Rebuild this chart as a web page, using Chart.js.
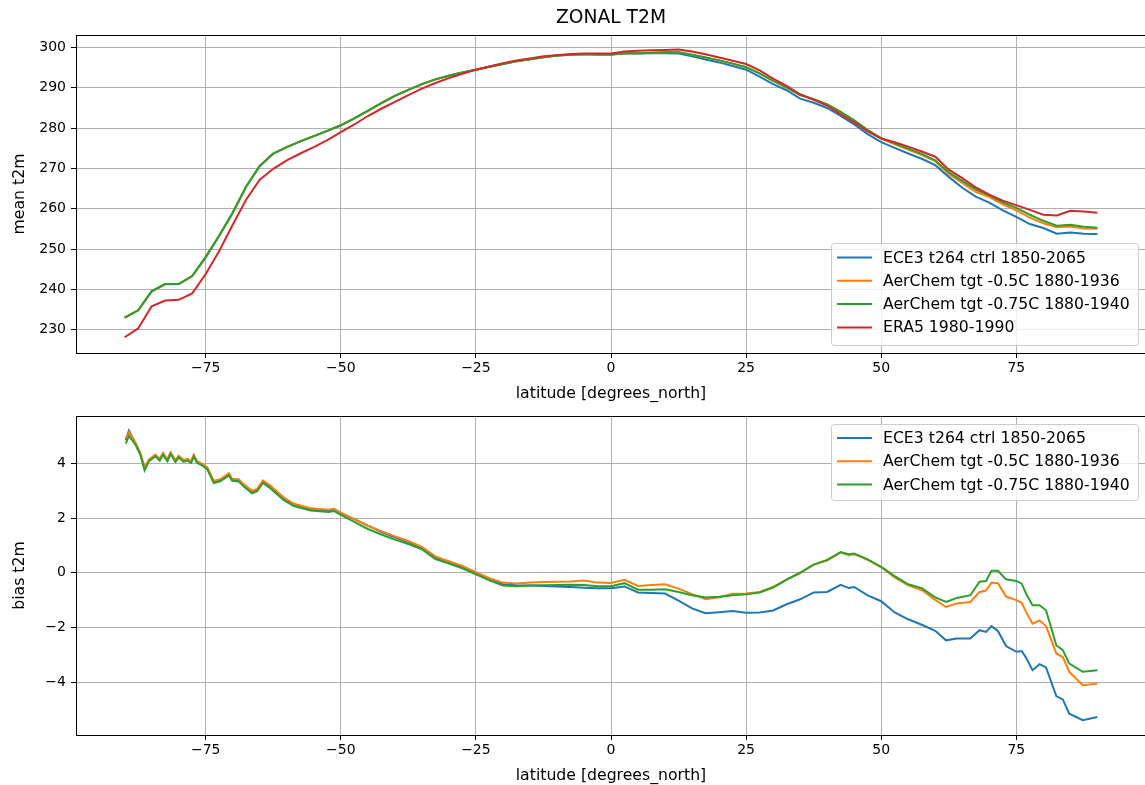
<!DOCTYPE html>
<html><head><meta charset="utf-8">
<script src="https://cdn.jsdelivr.net/npm/chart.js@4.4.0/dist/chart.umd.min.js"></script>
<style>
html,body{margin:0;padding:0;background:#fff;overflow:hidden;width:1145px;height:785px;}
canvas{position:absolute;left:0;}
#c1{top:0;} #c2{top:401px;}
</style></head><body>
<canvas id="c1" width="1150" height="403"></canvas>
<canvas id="c2" width="1150" height="384"></canvas>
<script>
// ---------- data ----------
const seriesNames = ['ECE3 t264 ctrl 1850-2065','AerChem tgt -0.5C 1880-1936','AerChem tgt -0.75C 1880-1940','ERA5 1980-1990'];
const seriesColors = ['#1f77b4','#ff7f0e','#2ca02c','#d62728'];
const xTicks = [-75,-50,-25,0,25,50,75];
const yTicksTop = [230,240,250,260,270,280,290,300];
const yTicksBias = [-4,-2,0,2,4];

const latTop = [-90,-87.5,-85,-82.5,-80,-77.5,-75,-72.5,-70,-67.5,-65,-62.5,-60,-57.5,-55,-52.5,-50,-47.5,-45,-42.5,-40,-37.5,-35,-32.5,-30,-27.5,-25,-22.5,-20,-17.5,-15,-12.5,-10,-7.5,-5,-2.5,0,2.5,5,7.5,10,12.5,15,17.5,20,22.5,25,27.5,30,32.5,35,37.5,40,42.5,45,47.5,50,52.5,55,57.5,60,62.5,65,67.5,70,72.5,75,77.5,80,82.5,85,87.5,90];

const meanEra5 = [228.1,230.3,235.8,237.2,237.4,239.0,243.8,249.5,256.0,262.3,267.2,269.9,272.0,273.7,275.3,277.0,279.0,280.9,283.0,284.8,286.5,288.2,289.8,291.2,292.4,293.5,294.5,295.3,296.1,296.8,297.3,297.8,298.1,298.4,298.5,298.5,298.5,299.0,299.2,299.3,299.4,299.5,299.0,298.3,297.5,296.7,295.9,294.3,292.3,290.5,288.4,287.0,285.6,283.4,281.4,279.2,277.4,276.5,275.4,274.2,272.9,269.7,267.6,265.3,263.5,262.0,260.9,259.7,258.5,258.3,259.5,259.3,259.0];

const meanAer075 = [233.0,234.8,239.5,241.3,241.3,243.3,248.0,253.3,259.0,265.5,270.6,273.7,275.3,276.7,278.0,279.3,280.7,282.4,284.3,286.2,288.0,289.5,290.9,292.1,293.0,293.8,294.5,295.2,295.9,296.6,297.1,297.6,298.0,298.2,298.3,298.3,298.3,298.6,298.6,298.7,298.8,298.8,298.2,297.5,296.8,296.0,295.1,293.6,291.7,290.1,288.2,287.2,285.9,284.0,281.9,279.5,277.5,276.2,274.9,273.6,272.0,269.0,266.9,264.8,263.3,261.6,260.2,258.5,257.0,255.8,256.0,255.5,255.3];

const meanAer05 = [233.0,234.8,239.5,241.3,241.3,243.3,248.0,253.3,259.0,265.5,270.6,273.7,275.3,276.7,278.0,279.3,280.7,282.4,284.3,286.2,288.0,289.5,290.9,292.1,293.0,293.8,294.5,295.2,295.9,296.6,297.1,297.6,298.0,298.2,298.3,298.3,298.3,298.6,298.6,298.7,298.8,298.8,298.2,297.5,296.8,296.0,295.1,293.6,291.7,290.1,288.2,287.2,285.9,284.0,281.9,279.5,277.4,276.0,274.7,273.3,271.8,268.6,266.4,264.2,262.9,261.1,259.6,257.8,256.4,255.4,255.6,255.1,255.0];

const meanEce3 = [233.0,234.8,239.5,241.3,241.3,243.3,248.0,253.3,259.0,265.5,270.6,273.7,275.3,276.7,278.0,279.3,280.7,282.4,284.3,286.2,288.0,289.5,290.9,292.1,293.0,293.8,294.5,295.2,295.9,296.6,297.1,297.6,298.0,298.2,298.3,298.2,298.2,298.5,298.5,298.6,298.6,298.5,297.8,297.0,296.3,295.4,294.5,292.8,290.9,289.4,287.3,286.3,285.0,283.0,280.9,278.5,276.5,275.1,273.7,272.4,270.8,267.9,265.2,263.0,261.5,259.6,258.0,256.2,255.2,253.8,254.1,253.8,253.7];

const latBias = [-89.8,-89.2,-88.0,-87.1,-86.3,-85.5,-84.3,-83.5,-82.9,-82.1,-81.5,-80.6,-80.0,-79.1,-78.4,-77.7,-77.2,-76.6,-75.7,-74.7,-73.5,-72.3,-70.7,-70.1,-68.9,-68.0,-66.4,-65.5,-64.4,-63.0,-60.6,-58.7,-55.6,-52.3,-51.3,-50,-47.5,-45,-42.5,-40,-37.5,-35,-32.5,-30,-27.5,-25,-22.5,-20,-17.5,-15,-12.5,-10,-7.5,-5,-2.5,0,2.5,5,7.5,10,12.5,15,17.5,20,22.5,25,27.5,30,32.5,35,37.5,40,42.5,44,45,47.5,50,52.5,55,57.5,60,62,64,66.5,68.2,69.4,70.4,71.6,73.1,75,76,76.8,78,79.3,80.5,82.4,83.6,84.8,87.3,90];

const biasAer05 = [4.90,5.14,4.75,4.38,3.86,4.14,4.32,4.16,4.38,4.14,4.40,4.12,4.28,4.12,4.16,4.08,4.32,4.08,3.99,3.85,
3.36,3.42,3.64,3.44,3.42,3.24,3.00,3.06,3.38,3.18,
2.76,2.52,2.36,2.30,2.34,2.20,1.96,1.72,1.52,1.33,
1.16,0.95,0.60,0.42,0.25,0.02,-0.20,-0.36,-0.39,-0.36,
-0.34,-0.33,-0.32,-0.28,-0.36,-0.37,-0.26,-0.48,-0.45,-0.42,
-0.58,-0.78,-0.97,-0.90,-0.77,-0.76,-0.70,-0.52,-0.25,0.00,
0.30,0.45,0.74,0.64,0.68,0.47,0.20,-0.17,-0.46,-0.63,
-0.99,-1.25,-1.12,-1.07,-0.70,-0.65,-0.36,-0.38,-0.87,-1.00,
-1.10,-1.43,-1.86,-1.74,-1.95,-2.95,-3.08,-3.62,-4.11,-4.05];

const biasAer075 = [4.72,5.00,4.68,4.32,3.74,4.08,4.26,4.10,4.32,4.08,4.34,4.05,4.22,4.05,4.10,4.02,4.25,4.02,3.93,3.78,
3.28,3.34,3.56,3.36,3.34,3.16,2.90,2.98,3.28,3.08,
2.66,2.44,2.28,2.22,2.26,2.12,1.86,1.60,1.40,1.21,
1.05,0.86,0.50,0.34,0.16,-0.06,-0.28,-0.47,-0.49,-0.47,
-0.46,-0.45,-0.44,-0.45,-0.49,-0.49,-0.38,-0.62,-0.62,-0.60,
-0.70,-0.82,-0.90,-0.88,-0.82,-0.79,-0.72,-0.54,-0.25,0.00,
0.30,0.47,0.76,0.68,0.70,0.49,0.22,-0.12,-0.42,-0.56,
-0.90,-1.07,-0.92,-0.82,-0.33,-0.30,0.07,0.07,-0.24,-0.30,
-0.40,-0.76,-1.19,-1.19,-1.37,-2.65,-2.83,-3.32,-3.62,-3.56];

const biasEce3 = [4.85,5.20,4.74,4.35,3.80,4.10,4.28,4.13,4.35,4.11,4.37,4.08,4.25,4.08,4.13,4.05,4.28,4.05,3.96,3.81,
3.32,3.38,3.60,3.40,3.38,3.20,2.94,3.02,3.34,3.14,
2.72,2.48,2.32,2.26,2.32,2.18,1.96,1.72,1.50,1.30,
1.12,0.92,0.55,0.38,0.20,-0.02,-0.24,-0.42,-0.46,-0.47,
-0.48,-0.50,-0.52,-0.55,-0.57,-0.57,-0.50,-0.72,-0.74,-0.76,
-1.02,-1.30,-1.48,-1.44,-1.40,-1.46,-1.45,-1.38,-1.15,-0.97,
-0.72,-0.70,-0.44,-0.56,-0.52,-0.83,-1.04,-1.45,-1.70,-1.90,
-2.12,-2.47,-2.40,-2.40,-2.10,-2.16,-1.95,-2.13,-2.68,-2.89,
-2.86,-3.10,-3.56,-3.34,-3.46,-4.51,-4.63,-5.15,-5.39,-5.27];

// ---------- helpers ----------
const FONT = "'DejaVu Sans', sans-serif";
Chart.defaults.font.family = FONT;
Chart.defaults.font.size = 14;
Chart.defaults.color = '#000';
const LABEL_SIZE = 15.7;

const fmt = v => (v < 0 ? '\u2212' + Math.abs(v) : String(v));
const pts = (xs, ys) => xs.map((x, i) => ({x: x, y: ys[i]}));

const framePlugin = {
  id: 'frame',
  afterDraw(chart) {
    const {ctx, chartArea: a} = chart;
    ctx.save();
    ctx.strokeStyle = '#000';
    ctx.lineWidth = 1;
    ctx.strokeRect(Math.round(a.left) + 0.5, Math.round(a.top) + 0.5,
                   Math.round(a.right - a.left), Math.round(a.bottom - a.top));
    ctx.restore();
  }
};

const boxLegend = {
  id: 'boxLegend',
  afterDraw(chart, args, o) {
    const ctx = chart.ctx;
    ctx.save();
    ctx.beginPath();
    ctx.roundRect(o.x + 0.5, o.y + 0.5, o.w, o.h, 3);
    ctx.fillStyle = 'rgba(255,255,255,0.8)';
    ctx.fill();
    ctx.strokeStyle = '#cccccc';
    ctx.lineWidth = 1;
    ctx.stroke();
    ctx.font = LABEL_SIZE + 'px ' + FONT;
    ctx.textBaseline = 'middle';
    ctx.textAlign = 'left';
    chart.data.datasets.forEach((ds, i) => {
      const yy = o.rowY + i * o.rowStep;
      ctx.beginPath();
      ctx.strokeStyle = ds.borderColor;
      ctx.lineWidth = 2;
      ctx.moveTo(o.lineX0, yy);
      ctx.lineTo(o.lineX1, yy);
      ctx.stroke();
      ctx.fillStyle = '#000';
      ctx.fillText(ds.label, o.textX, yy + 1);
    });
    ctx.restore();
  }
};

function xScale(text, h) {
  return {
    type: 'linear', min: -99, max: 99,
    afterBuildTicks: s => { s.ticks = xTicks.map(v => ({value: v})); },
    afterFit: s => { s.height = h; },
    ticks: {callback: fmt, padding: 2, color: '#000', maxRotation: 0, autoSkip: false, font: {size: 14}},
    grid: {color: '#b0b0b0', lineWidth: 1, tickColor: '#000', tickLength: 5, drawOnChartArea: true},
    border: {display: false},
    title: {display: true, text: text, color: '#000', font: {size: LABEL_SIZE}, padding: {top: 0, bottom: 0}}
  };
}
function yScale(text, min, max, ticks) {
  return {
    type: 'linear', min: min, max: max,
    afterBuildTicks: s => { s.ticks = ticks.map(v => ({value: v})); },
    afterFit: s => { s.width = 76; },
    ticks: {callback: fmt, padding: 5, color: '#000', autoSkip: false, font: {size: 14}},
    grid: {color: '#b0b0b0', lineWidth: 1, tickColor: '#000', tickLength: 5, drawOnChartArea: true},
    border: {display: false},
    title: {display: true, text: text, color: '#000', font: {size: LABEL_SIZE}, padding: {top: 10.6, bottom: 0}}
  };
}
function ds(label, color, data, order) {
  return {label: label, data: data, borderColor: color, backgroundColor: color,
          borderWidth: 2, pointRadius: 0, tension: 0, fill: false, order: order};
}

// ---------- top chart ----------
new Chart(document.getElementById('c1'), {
  type: 'line',
  data: {datasets: [
    ds(seriesNames[0], seriesColors[0], pts(latTop, meanEce3), 3),
    ds(seriesNames[1], seriesColors[1], pts(latTop, meanAer05), 2),
    ds(seriesNames[2], seriesColors[2], pts(latTop, meanAer075), 1),
    ds(seriesNames[3], seriesColors[3], pts(latTop, meanEra5), 0)
  ]},
  options: {
    responsive: false, animation: false, devicePixelRatio: 1,
    layout: {padding: {left: 0, right: 4, top: 0, bottom: 0}},
    scales: {x: xScale('latitude [degrees_north]', 50), y: yScale('mean t2m', 224.2, 303.1, yTicksTop)},
    plugins: {
      legend: {display: false}, tooltip: {enabled: false},
      title: {display: true, text: 'ZONAL T2M', fullSize: false, color: '#000',
              font: {size: 18.7, weight: 'normal', lineHeight: 1.2}, padding: {top: 7, bottom: 5.56}},
      boxLegend: {x: 831, y: 243, w: 307, h: 102, rowY: 257.5, rowStep: 23.3, lineX0: 837, lineX1: 872, textX: 883}
    }
  },
  plugins: [framePlugin, boxLegend]
});

// ---------- bottom chart ----------
new Chart(document.getElementById('c2'), {
  type: 'line',
  data: {datasets: [
    ds(seriesNames[0], seriesColors[0], pts(latBias, biasEce3), 2),
    ds(seriesNames[1], seriesColors[1], pts(latBias, biasAer05), 1),
    ds(seriesNames[2], seriesColors[2], pts(latBias, biasAer075), 0)
  ]},
  options: {
    responsive: false, animation: false, devicePixelRatio: 1,
    layout: {padding: {left: 0, right: 4, top: 15, bottom: 0}},
    scales: {x: xScale('latitude [degrees_north]', 50), y: yScale('bias t2m', -5.93, 5.73, yTicksBias)},
    plugins: {
      legend: {display: false}, tooltip: {enabled: false}, title: {display: false},
      boxLegend: {x: 831, y: 23, w: 307, h: 76, rowY: 37, rowStep: 23.3, lineX0: 837, lineX1: 872, textX: 883}
    }
  },
  plugins: [framePlugin, boxLegend]
});
</script>
</body></html>
